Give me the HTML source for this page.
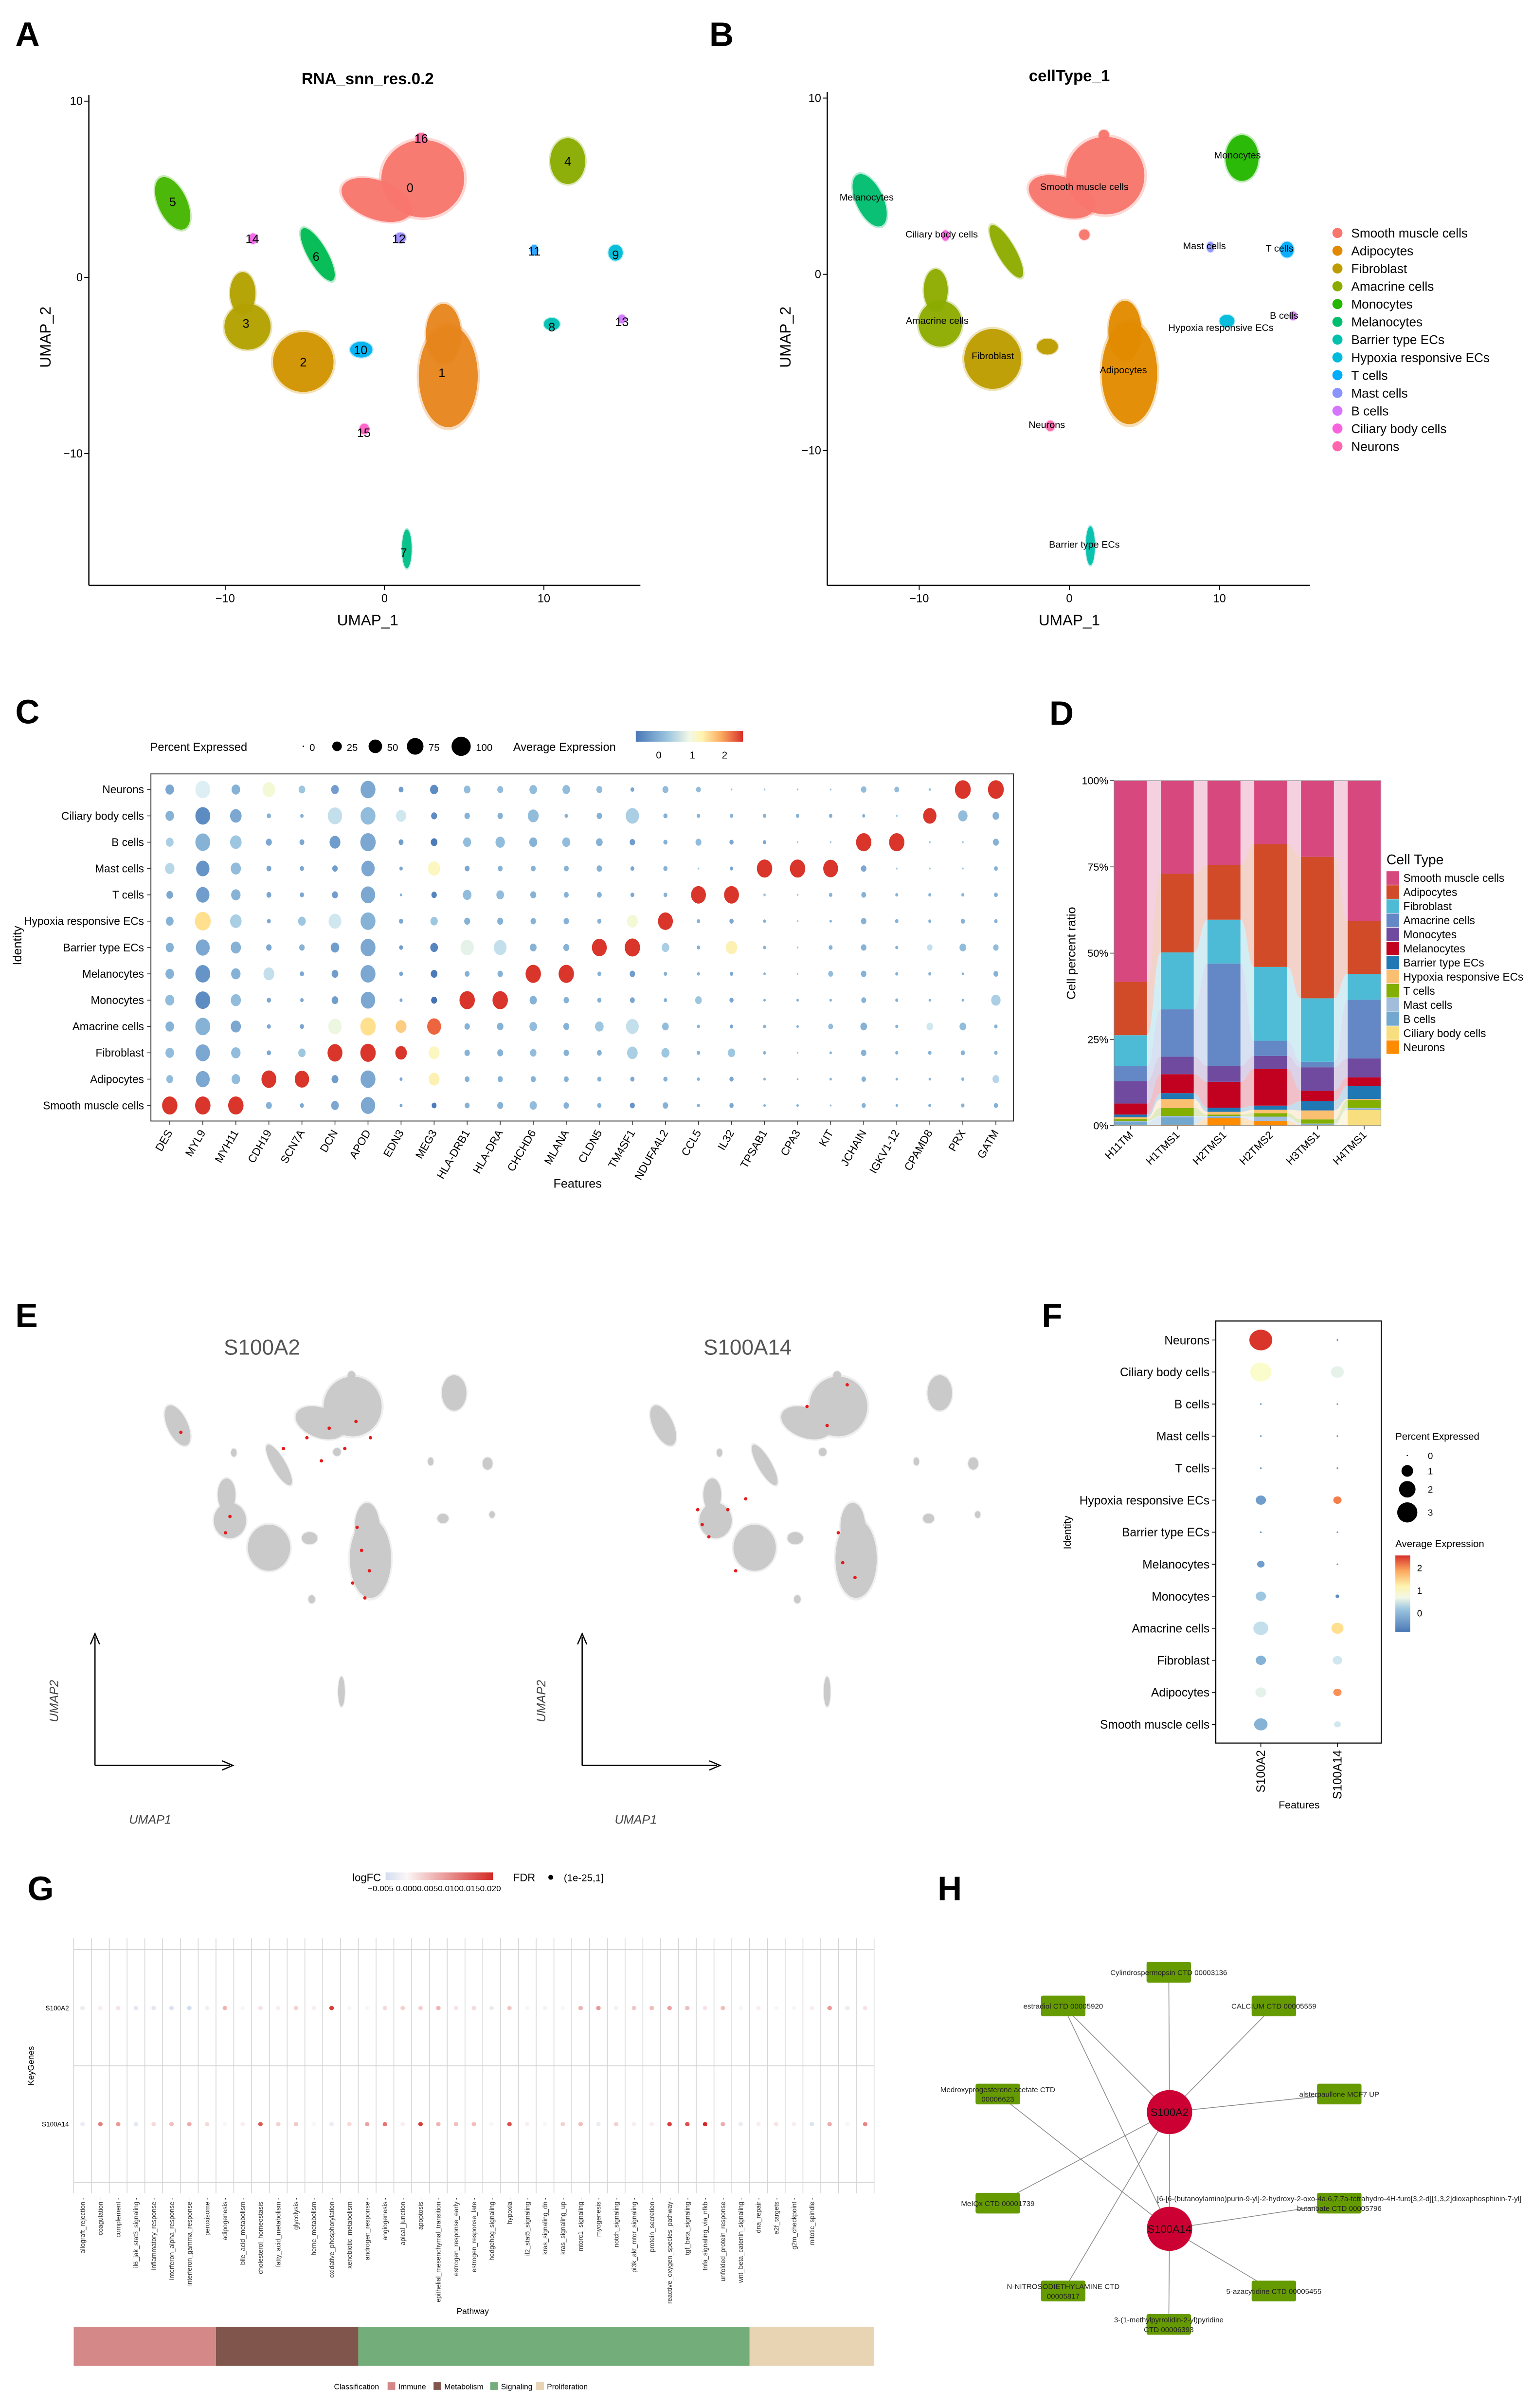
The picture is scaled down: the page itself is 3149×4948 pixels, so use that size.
<!DOCTYPE html>
<html><head><meta charset="utf-8">
<style>html,body{margin:0;padding:0;background:#fff}svg{display:block}text{font-family:"Liberation Sans",Arial,sans-serif}</style>
</head><body>
<svg id="fig" xmlns="http://www.w3.org/2000/svg" width="3149" height="4948" viewBox="0 0 1000 1571.3">
<rect x="0" y="0" width="1000" height="1571.3" fill="#fff"/>
<defs>
<linearGradient id="gC" x1="0" x2="1" y1="0" y2="0"><stop offset="0" stop-color="#4A78B6"/><stop offset="0.3" stop-color="#9DC6E0"/><stop offset="0.5" stop-color="#F1F8E6"/><stop offset="0.62" stop-color="#FFF3AE"/><stop offset="0.8" stop-color="#FCA85E"/><stop offset="1" stop-color="#D7302A"/></linearGradient>
<linearGradient id="gF" x1="0" x2="0" y1="1" y2="0"><stop offset="0" stop-color="#4A78B6"/><stop offset="0.3" stop-color="#9DC6E0"/><stop offset="0.45" stop-color="#F1F8E6"/><stop offset="0.6" stop-color="#FFF3AE"/><stop offset="0.8" stop-color="#FCA85E"/><stop offset="1" stop-color="#D7302A"/></linearGradient>
<linearGradient id="gG" x1="0" x2="1" y1="0" y2="0"><stop offset="0" stop-color="#D3DDF0"/><stop offset="0.2" stop-color="#FBF6F6"/><stop offset="1" stop-color="#D42A26"/></linearGradient>
</defs>
<g font-weight="bold" font-size="22">
<text x="10" y="30">A</text>
<text x="463" y="30">B</text>
<text x="10" y="472">C</text>
<text x="685" y="473">D</text>
<text x="10" y="866">E</text>
<text x="680" y="866">F</text>
<text x="18" y="1240">G</text>
<text x="612" y="1240">H</text>
</g>
<text x="240" y="55" text-anchor="middle" font-weight="bold" font-size="10.5">RNA_snn_res.0.2</text>
<text x="698" y="53" text-anchor="middle" font-weight="bold" font-size="10.5">cellType_1</text>
<text x="240" y="408" text-anchor="middle" font-size="10">UMAP_1</text>
<text transform="translate(33,220) rotate(-90)" text-anchor="middle" font-size="10">UMAP_2</text>
<text x="698" y="408" text-anchor="middle" font-size="10">UMAP_1</text>
<text transform="translate(516,220) rotate(-90)" text-anchor="middle" font-size="10">UMAP_2</text>
<text x="171" y="884" text-anchor="middle" font-size="14" fill="#555">S100A2</text>
<text x="488" y="884" text-anchor="middle" font-size="14" fill="#555">S100A14</text>
</svg>
<script>
// ---------- DATA ----------
// UMAP cluster parts: [cluster, u, v, ru, rv, rot]
const clusterParts=[[0,2.4,5.6,2.6,2.2,0],[0,-0.5,4.4,2.3,1.1,-20],[1,4,-5.6,1.85,2.9,0],[1,3.7,-3.2,1.1,1.7,0],[2,-5.1,-4.8,1.9,1.7,0],[3,-8.6,-2.8,1.45,1.3,0],[3,-8.9,-0.9,0.8,1.2,0],[4,11.5,6.6,1.1,1.3,0],[5,-13.3,4.2,0.9,1.6,25],[6,-4.2,1.3,0.6,1.7,30],[7,1.4,-15.4,0.3,1.1,0],[8,10.5,-2.65,0.5,0.35,0],[9,14.5,1.4,0.45,0.45,0],[10,-1.46,-4.1,0.7,0.45,0],[11,9.4,1.55,0.25,0.3,0],[12,1,2.25,0.35,0.3,0],[13,14.9,-2.36,0.25,0.25,0],[14,-8.25,2.2,0.25,0.3,0],[15,-1.27,-8.6,0.3,0.3,0],[16,2.3,7.9,0.35,0.3,0]];
const clusterLabelPos=[[0,1.6,5.1],[1,3.6,-5.4],[2,-5.1,-4.8],[3,-8.7,-2.6],[4,11.5,6.6],[5,-13.3,4.3],[6,-4.3,1.2],[7,1.2,-15.6],[8,10.5,-2.8],[9,14.5,1.3],[10,-1.5,-4.1],[11,9.4,1.5],[12,0.9,2.2],[13,14.9,-2.5],[14,-8.3,2.2],[15,-1.3,-8.8],[16,2.3,7.9]];
const clusterColors=["#F8766D","#E7851E","#D09400","#B2A100","#89AC00","#45B500","#00BC51","#00C087","#00C0B2","#00BCD6","#00B3F2","#29A3FF","#9C8DFF","#D277FF","#F166E8","#FF61C7","#FF689E"];
const cellTypes=["Smooth muscle cells","Adipocytes","Fibroblast","Amacrine cells","Monocytes","Melanocytes","Barrier type ECs","Hypoxia responsive ECs","T cells","Mast cells","B cells","Ciliary body cells","Neurons"];
const typeColors=["#F8766D","#E18A00","#BE9C00","#8CAB00","#24B700","#00BE70","#00C1AB","#00BBDA","#00ACFC","#8B93FF","#D575FE","#F962DD","#FF65AC"];
const clusterToType=[0,1,2,3,4,5,3,6,7,8,2,9,0,10,11,12,0];
const typeLabelPos=[[1,5],[3.6,-5.4],[-5.1,-4.6],[-8.8,-2.6],[11.2,6.8],[-13.5,4.4],[1,-15.3],[10.1,-3],[14,1.5],[9,1.65],[14.3,-2.3],[-8.5,2.3],[-1.5,-8.5]];
const umapTicks=[-10,0,10];

// Panel C dot plot
const dotGenes=["DES","MYL9","MYH11","CDH19","SCN7A","DCN","APOD","EDN3","MEG3","HLA-DRB1","HLA-DRA","CHCHD6","MLANA","CLDN5","TM4SF1","NDUFA4L2","CCL5","IL32","TPSAB1","CPA3","KIT","JCHAIN","IGKV1-12","CPAMD8","PRX","GATM"];
const dotRows=["Neurons","Ciliary body cells","B cells","Mast cells","T cells","Hypoxia responsive ECs","Barrier type ECs","Melanocytes","Monocytes","Amacrine cells","Fibroblast","Adipocytes","Smooth muscle cells"];
const pctNeurons=[25,75,25,55,15,20,75,8,22,15,12,20,20,12,5,12,8,1,1,1,1,10,8,2,85,85];
const pctCiliary=[25,75,45,6,4,70,75,35,12,10,10,40,4,10,60,6,4,4,4,4,4,3,1,60,30,15];
const pctB=[20,75,45,12,8,40,80,8,15,22,30,22,22,15,10,6,12,6,4,1,1,80,80,1,1,12];
const pctMast=[30,60,35,8,6,10,60,4,50,8,8,8,8,10,5,6,1,4,80,80,75,10,1,1,1,5];
const pctT=[15,60,30,8,6,12,70,2,10,25,20,12,8,8,5,5,75,75,2,1,4,8,3,3,3,5];
const pctHypoxia=[20,85,45,5,20,55,75,6,18,12,12,10,10,6,40,75,4,6,3,1,2,10,4,3,6,4];
const pctBarrier=[22,65,35,10,10,25,75,5,20,60,55,15,12,75,80,20,4,45,3,1,5,10,3,10,15,10];
const pctMelano=[25,75,30,40,6,15,75,5,15,8,10,80,80,5,10,4,3,4,2,1,8,10,3,3,2,8];
const pctMono=[28,75,35,6,4,15,70,3,12,80,80,18,10,6,8,4,15,6,2,2,2,8,3,2,2,30];
const pctAmacrine=[25,75,35,5,6,60,80,40,65,10,14,20,12,25,55,15,3,4,3,2,8,15,3,15,15,4];
const pctFibro=[25,70,30,6,18,75,80,45,40,10,12,14,10,8,38,22,4,18,3,1,2,10,3,4,6,4];
const pctAdipo=[16,65,25,75,70,16,75,3,40,8,9,9,8,6,6,6,3,6,2,1,2,7,2,2,3,16];
const pctSmooth=[80,80,80,12,5,20,70,3,8,8,12,18,10,6,8,10,3,6,2,2,1,6,2,3,4,6];
const exNeurons=[-0.3,0.5,-0.2,0.8,0,-0.4,-0.3,-0.4,-0.6,-0.1,-0.1,-0.1,-0.1,-0.1,-0.3,-0.1,-0.1,0,0,0,0,-0.1,-0.1,0,2.3,2.3];
const exCiliary=[-0.2,-0.6,-0.3,-0.2,-0.2,0.3,-0.1,0.4,-0.6,-0.2,-0.2,-0.1,-0.2,-0.2,0.1,-0.2,-0.2,-0.2,-0.2,-0.2,-0.2,-0.2,0,2.3,-0.1,-0.2];
const exB=[0.1,-0.2,0,-0.3,-0.3,-0.4,-0.3,-0.4,-0.8,-0.1,-0.1,-0.2,-0.1,-0.2,-0.4,-0.2,-0.1,-0.3,-0.3,0,0,2.3,2.3,0,0,-0.2];
const exMast=[0.2,-0.5,-0.1,-0.3,-0.3,-0.4,-0.3,-0.3,1.0,-0.3,-0.2,-0.2,-0.2,-0.2,-0.3,-0.2,0,-0.3,2.3,2.3,2.3,-0.3,0,0,0,-0.2];
const exT=[-0.3,-0.4,-0.2,-0.3,-0.3,-0.4,-0.3,-0.2,-0.7,-0.1,-0.1,-0.2,-0.2,-0.2,-0.3,-0.2,2.3,2.3,0,0,-0.2,-0.2,-0.2,-0.2,-0.2,-0.2];
const exHypoxia=[-0.2,1.4,0.1,-0.3,0,0.4,-0.2,-0.3,0,-0.2,-0.2,-0.2,-0.2,-0.2,0.8,2.3,-0.2,-0.3,-0.2,0,-0.2,-0.2,-0.2,-0.2,-0.2,-0.2];
const exBarrier=[-0.2,-0.3,-0.2,-0.3,-0.2,-0.4,-0.3,-0.4,-0.7,0.6,0.3,-0.2,-0.2,2.3,2.3,0.1,-0.2,1.1,-0.2,0,-0.2,-0.2,-0.2,0.3,-0.1,-0.1];
const exMelano=[-0.2,-0.5,-0.2,0.3,-0.3,-0.4,-0.3,-0.3,-0.8,-0.2,-0.2,2.3,2.3,-0.2,-0.4,-0.2,-0.2,-0.3,-0.2,0,-0.1,-0.2,-0.2,-0.2,-0.2,-0.2];
const exMono=[-0.1,-0.6,-0.1,-0.3,-0.3,-0.4,-0.3,-0.3,-0.9,2.3,2.3,-0.2,-0.2,-0.2,-0.3,-0.2,0,-0.3,-0.2,-0.2,-0.2,-0.2,-0.2,-0.2,-0.2,0.1];
const exAmacrine=[-0.2,-0.2,-0.3,-0.3,-0.3,0.7,1.4,1.5,2.0,-0.2,-0.2,-0.1,-0.2,0,0.3,-0.1,-0.2,-0.3,-0.2,-0.2,-0.1,-0.2,-0.2,0.4,-0.1,-0.2];
const exFibro=[-0.1,-0.3,-0.1,-0.3,0,2.3,2.3,2.3,1.0,-0.2,-0.2,-0.1,-0.2,-0.2,0.1,0,-0.2,0,-0.2,0,-0.2,-0.2,-0.2,-0.2,-0.2,-0.2];
const exAdipo=[-0.1,-0.3,-0.1,2.3,2.3,-0.4,-0.3,-0.3,1.1,-0.2,-0.2,-0.2,-0.2,-0.2,-0.3,-0.2,-0.2,-0.3,-0.2,-0.2,-0.2,-0.2,-0.2,-0.2,-0.2,0.2];
const exSmooth=[2.3,2.3,2.3,-0.2,-0.3,-0.3,-0.3,-0.3,-0.8,-0.2,-0.2,-0.1,-0.2,-0.2,-0.5,-0.2,-0.2,-0.3,-0.2,-0.2,-0.2,-0.2,-0.2,-0.2,-0.2,-0.2];
const pctLegendVals=[0,25,50,75,100];

// Panel D stacked bars (bottom -> top stacking order)
const samples=["H11TM","H1TMS1","H2TMS1","H2TMS2","H3TMS1","H4TMS1"];
const stackTypes=["Neurons","Ciliary body cells","B cells","Mast cells","T cells","Hypoxia responsive ECs","Barrier type ECs","Melanocytes","Monocytes","Amacrine cells","Fibroblast","Adipocytes","Smooth muscle cells"];
const stackColors=["#FF8C00","#F8DE7E","#72A8CF","#A2BCDC","#82AF00","#FBBF72","#1F77B4","#C20020","#6F4A9E","#6488C6","#4DBBD5","#D14B28","#D6487E"];
const pH11TM=[0.1,0.1,0.8,0.4,0.5,0.5,0.8,3.2,6.5,4.3,9,15.5,58.3];
const pH1TMS1=[0.2,0.05,2.15,0.4,2.3,2.6,1.7,5.5,5.1,13.7,16.5,22.8,27];
const pH2TMS1=[2.2,0,0.2,0.4,0.4,0.8,1.2,7.5,4.6,29.7,12.7,15.9,24.4];
const pH2TMS2=[1.4,0,0,1.2,1,1,1.2,10.6,3.8,4.4,21.4,35.6,18.4];
const pH3TMS1=[0.1,0.1,0.2,0.2,1.2,2.6,2.7,3,6.8,1.6,18.4,41,22.1];
const pH4TMS1=[0,4.6,0.2,0.3,2.3,0.3,3.8,2.5,5.5,17,7.5,15.3,40.7];
const pctTicks=[0,25,50,75,100];

// Panel E expressing cells (UMAP units)
const s100a2Cells=[[-13,3.7],[-3.8,2.5],[-1.7,3.3],[0.3,4],[1.7,2.5],[2.7,4.5],[4,3.3],[-0.4,1.6],[-8.6,-2.5],[-9,-3.7],[2.8,-3.3],[3.2,-5],[3.9,-6.5],[2.4,-7.4],[3.5,-8.5]];
const s100a14Cells=[[-10.2,-2],[-9.8,-3.1],[-9.2,-4],[-7.5,-2],[-5.9,-1.2],[-0.4,5.6],[1.4,4.2],[3.2,7.2],[-6.8,-6.5],[2.4,-3.7],[2.8,-5.9],[3.9,-7]];

// Panel F
const fRows=["Neurons","Ciliary body cells","B cells","Mast cells","T cells","Hypoxia responsive ECs","Barrier type ECs","Melanocytes","Monocytes","Amacrine cells","Fibroblast","Adipocytes","Smooth muscle cells"];
const fGenes=["S100A2","S100A14"];
const fPctA2=[3.5,3.0,0.02,0.02,0.02,0.7,0.02,0.37,0.7,1.5,0.7,0.8,1.2];
const fPctA14=[0.02,1.1,0.02,0.02,0.02,0.45,0.02,0.02,0.1,1.0,0.6,0.45,0.3];
const fExA2=[2.3,0.9,-0.5,-0.5,-0.5,-0.4,-0.5,-0.4,0,0.3,-0.2,0.6,-0.2];
const fExA14=[-0.5,0.6,-0.5,-0.5,-0.5,1.9,-0.5,-0.5,-0.6,1.4,0.4,1.8,0.4];
const fPctLegend=[0,1,2,3];
const fExTicks=[0,1,2];

// Panel G
const pathways=["allograft_rejection","coagulation","complement","il6_jak_stat3_signaling","inflammatory_response","interferon_alpha_response","interferon_gamma_response","peroxisome","adipogenesis","bile_acid_metabolism","cholesterol_homeostasis","fatty_acid_metabolism","glycolysis","heme_metabolism","oxidative_phosphorylation","xenobiotic_metabolism","androgen_response","angiogenesis","apical_junction","apoptosis","epithelial_mesenchymal_transition","estrogen_response_early","estrogen_response_late","hedgehog_signaling","hypoxia","il2_stat5_signaling","kras_signaling_dn","kras_signaling_up","mtorc1_signaling","myogenesis","notch_signaling","pi3k_akt_mtor_signaling","protein_secretion","reactive_oxygen_species_pathway","tgf_beta_signaling","tnfa_signaling_via_nfkb","unfolded_protein_response","wnt_beta_catenin_signaling","dna_repair","e2f_targets","g2m_checkpoint","mitotic_spindle","","",""];
const keyGenes=["S100A2","S100A14"];
const lfcA2=[-0.002,0.001,0.002,-0.003,-0.003,-0.004,-0.005,0.001,0.007,0,0.002,0.001,0.004,0.001,0.02,0,0,0.003,0.004,0.004,0.007,0.002,0.003,-0.002,0.005,0,0.0005,0,0.007,0.01,0.0005,0.005,0.006,0.009,0.006,0.002,0.006,0,0.001,0,0,0.001,0.01,-0.002,0.002];
const lfcA14=[-0.002,0.013,0.01,-0.003,0.003,0.006,0.008,0.003,0,0.001,0.017,0.004,0.005,0,-0.002,0.003,0.009,0.014,0.001,0.02,0.007,0.006,0.006,0,0.018,0.001,0,0.004,0.006,-0.002,0.004,0.001,0.001,0.02,0.018,0.022,0.008,-0.002,0.001,0.002,0.001,-0.004,0.008,0,0.012];
const classNames=["Immune","Metabolism","Signaling","Proliferation"];
const classCounts=[8,8,22,7];
const classColors=["#D48888","#80554C","#72AD7A","#E8D3B3"];

// Panel H network
const hGenes=[["S100A2",763.4,1378.2],["S100A14",763.4,1454.4]];
const hDrugs=[["cylindrospermopsin",762.9,1287,["Cylindrospermopsin CTD 00003136"]],["estradiol",694,1309,["estradiol CTD 00005920"]],["calcium",831.5,1309,["CALCIUM CTD 00005559"]],["medroxyprogesterone",651.3,1366.5,["Medroxyprogesterone acetate CTD","00006623"]],["alsterpaullone",874.2,1366.5,["alsterpaullone MCF7 UP"]],["meiqx",651.3,1437.7,["MeIQx CTD 00001739"]],["butanoate",874.2,1437.7,["[6-[6-(butanoylamino)purin-9-yl]-2-hydroxy-2-oxo-4a,6,7,7a-tetrahydro-4H-furo[3,2-d][1,3,2]dioxaphosphinin-7-yl]","butanoate CTD 00005796"]],["n-nitrosodiethylamine",694,1495,["N-NITROSODIETHYLAMINE CTD","00005817"]],["azacytidine",831.5,1495,["5-azacytidine CTD 00005455"]],["methylpyrrolidinyl-pyridine",762.9,1516.8,["3-(1-methylpyrrolidin-2-yl)pyridine","CTD 00006393"]]];
const hEdges=[[0,"cylindrospermopsin"],[0,"estradiol"],[0,"calcium"],[0,"alsterpaullone"],[0,"meiqx"],[0,"n-nitrosodiethylamine"],[1,"estradiol"],[1,"medroxyprogesterone"],[1,"butanoate"],[1,"azacytidine"],[1,"methylpyrrolidinyl-pyridine"],[0,"S100A14"]];

// ---------- HELPERS ----------
const NS='http://www.w3.org/2000/svg';
const svg=document.getElementById('fig');
function mk(tag,attrs,parent){const e=document.createElementNS(NS,tag);for(const k in attrs)e.setAttribute(k,attrs[k]);(parent||svg).appendChild(e);return e;}
function txt(s,attrs,parent){const e=mk('text',attrs,parent);e.textContent=s;return e;}
function grp(name){const g=mk('g',{});return g;}
function hex2rgb(h){return[parseInt(h.slice(1,3),16),parseInt(h.slice(3,5),16),parseInt(h.slice(5,7),16)];}
function interp(stops,v){if(v<=stops[0][0])return stops[0][1];for(let i=1;i<stops.length;i++){if(v<=stops[i][0]){const t=(v-stops[i-1][0])/(stops[i][0]-stops[i-1][0]);const a=hex2rgb(stops[i-1][1]),b=hex2rgb(stops[i][1]);return 'rgb('+a.map((x,k)=>Math.round(x+(b[k]-x)*t)).join(',')+')';}}return stops[stops.length-1][1];}
const exprStops=[[-1,'#3B6BB0'],[-0.45,'#6A98C9'],[0,'#9DC6E0'],[0.5,'#DDEFF4'],[0.9,'#FBFCCB'],[1.4,'#FEE08E'],[1.9,'#F57D4A'],[2.2,'#D9352A']];
const lfcStops=[[-0.005,'#D3DDF0'],[0,'#FBF6F6'],[0.022,'#D42A26']];

// ---------- UMAP PANELS ----------
function drawUmap(g,xs,ys,colorOf,op){
  clusterParts.forEach(p=>{
    const cx=xs(p[1]),cy=ys(p[2]);
    const rx=Math.abs(xs(p[3])-xs(0)),ry=Math.abs(ys(p[4])-ys(0));
    const halo=mk('ellipse',{cx:cx,cy:cy,rx:rx*1.05+0.4,ry:ry*1.05+0.4,fill:colorOf(p[0]),'fill-opacity':0.3*op,transform:`rotate(${-p[5]} ${cx} ${cy})`},g);
    
    
    const e=mk('ellipse',{cx:cx,cy:cy,rx:rx,ry:ry,fill:colorOf(p[0]),'fill-opacity':op,transform:`rotate(${-p[5]} ${cx} ${cy})`},g);
    
    
  });
}
function drawAxes(g,x0,x1,y0,y1,xs,ys){
  const l1=mk('line',{x1:x0,y1:y0,x2:x0,y2:y1,stroke:'#000','stroke-width':0.8},g);
  
  
  const l2=mk('line',{x1:x0,y1:y1,x2:x1,y2:y1,stroke:'#000','stroke-width':0.8},g);
  
  
  umapTicks.forEach(t=>{
    const tl=mk('line',{x1:x0-3,x2:x0,y1:ys(t),y2:ys(t),stroke:'#000','stroke-width':0.6},g);
    
    
    const lb=txt(String(t).replace('-','\u2212'),{x:x0-4,y:ys(t)+2.5,'text-anchor':'end','font-size':7.5},g);
    
    
    const tx=mk('line',{x1:xs(t),x2:xs(t),y1:y1,y2:y1+3,stroke:'#000','stroke-width':0.6},g);
    
    
    const lx=txt(String(t).replace('-','\u2212'),{x:xs(t),y:y1+11,'text-anchor':'middle','font-size':7.5},g);
    
    
  });
}
// Panel A
const xA=u=>251+10.4*u, yA=v=>181-11.5*v;
const gA=grp('panel-a-umap-clusters');
drawUmap(gA,xA,yA,c=>clusterColors[c],0.95);
drawAxes(gA,58,418,62,382,xA,yA);
clusterLabelPos.forEach(l=>{
  const t=txt(String(l[0]),{x:xA(l[1]),y:yA(l[2])+3,'text-anchor':'middle','font-size':8},gA);
  
  
});
// Panel B
const xB=u=>698+9.8*u, yB=v=>179-11.5*v;
const gB=grp('panel-b-umap-celltypes');
drawUmap(gB,xB,yB,c=>typeColors[clusterToType[c]],0.95);
drawAxes(gB,540,855,60,382,xB,yB);
cellTypes.forEach((n,i)=>{
  const p=typeLabelPos[i];
  const t=txt(n,{x:xB(p[0]),y:yB(p[1])+2.5,'text-anchor':'middle','font-size':6.3},gB);
  
  
  const key=mk('circle',{cx:873,cy:152+i*11.6,r:3.3,fill:typeColors[i]},gB);
  
  
  const lt=txt(n,{x:882,y:155+i*11.6,'font-size':8.3},gB);
  
  
});

// ---------- PANEL C ----------
const gC=grp('panel-c-dotplot');
const colX=i=>110.8+21.57*i, rowY=j=>515.2+17.18*j, rad=p=>6.6*Math.sqrt(p/100);
const pctRows=[pctNeurons,pctCiliary,pctB,pctMast,pctT,pctHypoxia,pctBarrier,pctMelano,pctMono,pctAmacrine,pctFibro,pctAdipo,pctSmooth];
const exRows=[exNeurons,exCiliary,exB,exMast,exT,exHypoxia,exBarrier,exMelano,exMono,exAmacrine,exFibro,exAdipo,exSmooth];
const boxC=mk('rect',{x:98.5,y:505,width:563,height:226.5,fill:'none',stroke:'#333','stroke-width':0.6},gC);


dotRows.forEach((r,j)=>{
  const t=txt(r,{x:94,y:rowY(j)+2.5,'text-anchor':'end','font-size':7.2},gC);
  
  
  const tk=mk('line',{x1:96,x2:98.5,y1:rowY(j),y2:rowY(j),stroke:'#333','stroke-width':0.5},gC);
  
  
  dotGenes.forEach((g,i)=>{
    const r0=Math.max(rad(pctRows[j][i]),0.5);
    const d=mk('ellipse',{cx:colX(i),cy:rowY(j),rx:r0*0.85,ry:r0,fill:interp(exprStops,exRows[j][i])},gC);
    
    
  });
});
dotGenes.forEach((g,i)=>{
  const tk=mk('line',{x1:colX(i),x2:colX(i),y1:731.5,y2:734,stroke:'#333','stroke-width':0.5},gC);
  
  
  const t=txt(g,{transform:`translate(${colX(i)+2},${739}) rotate(-60)`,'text-anchor':'end','font-size':7.2},gC);
  
  
});
const cxT=txt('Features',{x:377,y:775,'text-anchor':'middle','font-size':8},gC);


const cyT=txt('Identity',{transform:'translate(14,617) rotate(-90)','text-anchor':'middle','font-size':8},gC);


const cl1=txt('Percent Expressed',{x:98,y:490,'font-size':7.5},gC);


const legX=[198,220,245,271,301];
pctLegendVals.forEach((v,i)=>{
  const c=mk('circle',{cx:legX[i],cy:487,r:Math.max(rad(v)*0.95,0.5),fill:'#000'},gC);
  
  
  const t=txt(String(v),{x:legX[i]+Math.max(rad(v),1)+3,y:490,'font-size':6.5},gC);
  
  
});
const cl2=txt('Average Expression',{x:335,y:490,'font-size':7.5},gC);


const cb=mk('rect',{x:415,y:477,width:70,height:7,fill:'url(#gC)'},gC);


[[0,430],[1,452],[2,473]].forEach(p=>{
  const t=txt(String(p[0]),{x:p[1],y:495,'text-anchor':'middle','font-size':6.5},gC);
  
  
});

// ---------- PANEL D ----------
const gD=grp('panel-d-stacked-bars');
const barL=i=>727.2+30.5*i, barW=21.5, yD=p=>734.5-2.251*p;
const pRows=[pH11TM,pH1TMS1,pH2TMS1,pH2TMS2,pH3TMS1,pH4TMS1];
const cum=pRows.map(r=>{let s=0;return r.map(v=>{const b=s;s+=v;return [b,s];});});
for(let i=0;i<samples.length-1;i++){
  stackTypes.forEach((t,k)=>{
    const x0=barL(i)+barW,x1=barL(i+1),xm=(x0+x1)/2;
    const a=cum[i][k],b=cum[i+1][k];
    const p=mk('path',{d:`M${x0},${yD(a[1])} C${xm},${yD(a[1])} ${xm},${yD(b[1])} ${x1},${yD(b[1])} L${x1},${yD(b[0])} C${xm},${yD(b[0])} ${xm},${yD(a[0])} ${x0},${yD(a[0])} Z`,fill:stackColors[k],'fill-opacity':0.25},gD);
    
    
  });
}
samples.forEach((s,i)=>{
  stackTypes.forEach((t,k)=>{
    const c=cum[i][k];
    const r=mk('rect',{x:barL(i),y:yD(c[1]),width:barW,height:Math.max(yD(c[0])-yD(c[1]),0),fill:stackColors[k]},gD);
    
    
  });
  const cx=barL(i)+barW/2;
  const tk=mk('line',{x1:cx,x2:cx,y1:734.5,y2:737,stroke:'#333','stroke-width':0.5},gD);
  
  
  const lb=txt(s,{transform:`translate(${cx+2},${741}) rotate(-45)`,'text-anchor':'end','font-size':7},gD);
  
  
});
const fD=mk('rect',{x:727.2,y:509.4,width:174.2,height:225.1,fill:'none',stroke:'#888','stroke-width':0.4},gD);


pctTicks.forEach(p=>{
  const tk=mk('line',{x1:724.5,x2:727.2,y1:yD(p),y2:yD(p),stroke:'#333','stroke-width':0.5},gD);
  
  
  const lb=txt(p+'%',{x:723.5,y:yD(p)+2.4,'text-anchor':'end','font-size':6.8},gD);
  
  
});
const dyT=txt('Cell percent ratio',{transform:'translate(702,622) rotate(-90)','text-anchor':'middle','font-size':8},gD);


const dlt=txt('Cell Type',{x:905,y:564,'font-size':9},gD);


for(let k=stackTypes.length-1,n=0;k>=0;k--,n++){
  const key=mk('rect',{x:905,y:568.5+n*9.2,width:8.3,height:8.8,fill:stackColors[k]},gD);
  
  
  const t=txt(stackTypes[k],{x:916,y:575.5+n*9.2,'font-size':7.2},gD);
  
  
}

// ---------- PANEL E ----------
const gE=grp('panel-e-feature-plots');
const yE=v=>967.4-8.86*v, xE1=u=>212.7+7.28*u, xE2=u=>529.7+7.28*u;
drawUmap(gE,xE1,yE,()=>'#CACACA',1);
drawUmap(gE,xE2,yE,()=>'#CACACA',1);
s100a2Cells.forEach(c=>{
  const d=mk('circle',{cx:xE1(c[0]),cy:yE(c[1]),r:1.1,fill:'#E41A1C'},gE);
  
  
});
s100a14Cells.forEach(c=>{
  const d=mk('circle',{cx:xE2(c[0]),cy:yE(c[1]),r:1.1,fill:'#E41A1C'},gE);
  
  
});
[[62,38,98],[380,356,415]].forEach((a,i)=>{
  const v=mk('path',{d:`M${a[0]},1152 L${a[0]},1068 M${a[0]-3},1073 L${a[0]},1066 L${a[0]+3},1073`,stroke:'#000','stroke-width':0.8,fill:'none'},gE);
  
  
  const h=mk('path',{d:`M${a[0]},1152 L${a[0]+88},1152 M${a[0]+83},1149 L${a[0]+90},1152 L${a[0]+83},1155`,stroke:'#000','stroke-width':0.8,fill:'none'},gE);
  
  
  const t1=txt('UMAP2',{transform:`translate(${a[1]},1110) rotate(-90)`,'text-anchor':'middle','font-size':8,'font-style':'italic',fill:'#444'},gE);
  
  
  const t2=txt('UMAP1',{x:a[2],y:1190,'text-anchor':'middle','font-size':8,'font-style':'italic',fill:'#444'},gE);
  
  
});

// ---------- PANEL F ----------
const gF=grp('panel-f-dotplot');
const colF=i=>823+50*i, rowF=j=>874.4+20.9*j, radF=p=>Math.max(4*Math.sqrt(p),0.45);
const fB=mk('rect',{x:793.6,y:862,width:108,height:275.4,fill:'none',stroke:'#000','stroke-width':0.7},gF);


const fP=[fPctA2,fPctA14], fE=[fExA2,fExA14];
fRows.forEach((r,j)=>{
  const t=txt(r,{x:789.5,y:rowF(j)+2.8,'text-anchor':'end','font-size':7.8},gF);
  
  
  const tk=mk('line',{x1:791,x2:793.6,y1:rowF(j),y2:rowF(j),stroke:'#000','stroke-width':0.5},gF);
  
  
  fGenes.forEach((g,i)=>{
    const r0=radF(fP[i][j]);
    const d=mk('ellipse',{cx:colF(i),cy:rowF(j),rx:r0,ry:r0*0.9,fill:interp(exprStops,fE[i][j])},gF);
    
    
  });
});
fGenes.forEach((g,i)=>{
  const tk=mk('line',{x1:colF(i),x2:colF(i),y1:1137.4,y2:1140,stroke:'#000','stroke-width':0.5},gF);
  
  
  const t=txt(g,{transform:`translate(${colF(i)+2.6},${1142}) rotate(-90)`,'text-anchor':'end','font-size':7.8},gF);
  
  
});
const fx=txt('Features',{x:848,y:1180,'text-anchor':'middle','font-size':6.8},gF);


const fy=txt('Identity',{transform:'translate(699,1000) rotate(-90)','text-anchor':'middle','font-size':6.8},gF);


const fl1=txt('Percent Expressed',{x:910.8,y:939.5,'font-size':6.5},gF);


const fLegY=[949.8,959.8,971.8,986.9];
fPctLegend.forEach((v,i)=>{
  const c=mk('circle',{cx:918.6,cy:fLegY[i],r:Math.max(v===0?0.4:4*Math.sqrt(v)*0.95,0.4),fill:'#000'},gF);
  
  
  const t=txt(String(v),{x:932,y:fLegY[i]+2.2,'font-size':6},gF);
  
  
});
const fl2=txt('Average Expression',{x:910.8,y:1009.5,'font-size':6.5},gF);


const fcb=mk('rect',{x:910.8,y:1015,width:9.7,height:50,fill:'url(#gF)'},gF);


const fcbY=v=>1052.6-14.8*v;
fExTicks.forEach(v=>{
  const t=txt(String(v),{x:925,y:fcbY(v)+2.2,'font-size':6},gF);
  
  
});

// ---------- PANEL G ----------
const gG=grp('panel-g-pathway-dotplot');
const xG=i=>53.9+11.61*i, rowG=[1310.3,1386.1];
for(let i=0;i<=pathways.length;i++){
  const l=mk('line',{x1:xG(i)-5.8,x2:xG(i)-5.8,y1:1264.8,y2:1431.2,stroke:'#D4D4D4','stroke-width':0.5},gG);
  
  
}
[1272.1,1348,1424.1].forEach(y=>{
  const l=mk('line',{x1:47.7,x2:570.5,y1:y,y2:y,stroke:'#D4D4D4','stroke-width':0.5},gG);
  
  
});
const lfc=[lfcA2,lfcA14];
keyGenes.forEach((g,j)=>{
  const t=txt(g,{x:45,y:rowG[j]+1.5,'text-anchor':'end','font-size':4.3},gG);
  
  
  pathways.forEach((p,i)=>{
    const d=mk('ellipse',{cx:xG(i),cy:rowG[j],rx:1.5,ry:1.4,fill:interp(lfcStops,lfc[j][i])},gG);
    
    
  });
});
pathways.forEach((p,i)=>{
  if(!p)return;
  const t=txt(p+' -',{transform:`translate(${xG(i)+1.5},${1434}) rotate(-90)`,'text-anchor':'end','font-size':4.3,fill:'#333'},gG);
  
  
});
const gx=txt('Pathway',{x:308.6,y:1510,'text-anchor':'middle','font-size':5.5},gG);


const gy=txt('KeyGenes',{transform:'translate(22,1348) rotate(-90)','text-anchor':'middle','font-size':5.5},gG);


let start=0;
classCounts.forEach((n,k)=>{
  const r=mk('rect',{x:xG(start)-5.8,y:1518.3,width:n*11.61,height:25.5,fill:classColors[k]},gG);
  
  
  start+=n;
});
const clT=txt('Classification',{x:218,y:1559,'font-size':5},gG);


const clX=[253,283,320,350];
classNames.forEach((n,k)=>{
  const r=mk('rect',{x:clX[k],y:1554.5,width:5,height:5,fill:classColors[k]},gG);
  
  
  const t=txt(n,{x:clX[k]+7,y:1559,'font-size':5},gG);
  
  
});
const lg1=txt('logFC',{x:230,y:1227.5,'font-size':7},gG);


const lgb=mk('rect',{x:251.7,y:1221.8,width:70,height:5,fill:'url(#gG)'},gG);


const lgl=txt('\u22120.005 0.0000.0050.0100.0150.020',{x:240,y:1234,'font-size':5,textLength:87,lengthAdjust:'spacingAndGlyphs'},gG);


const fdr=txt('FDR',{x:335,y:1227.5,'font-size':7},gG);


const fdd=mk('circle',{cx:359.5,cy:1225,r:1.6,fill:'#000'},gG);


const fdl=txt('(1e-25,1]',{x:368,y:1227.5,'font-size':6.5},gG);



// ---------- PANEL H ----------
const gH=grp('panel-h-network');
const pos={};
hGenes.forEach(g=>pos[g[0]]=[g[1],g[2]]);
hDrugs.forEach(d=>pos[d[0]]=[d[1],d[2]]);
hEdges.forEach(e=>{
  const a=pos[hGenes[e[0]][0]],b=pos[e[1]];
  const l=mk('line',{x1:a[0],y1:a[1],x2:b[0],y2:b[1],stroke:'#8A8A8A','stroke-width':0.5},gH);
  
  
});
hDrugs.forEach(d=>{
  const r=mk('rect',{x:d[1]-14.5,y:d[2]-6.8,width:29,height:13.5,rx:1.2,fill:'#659A00'},gH);
  
  
  const n=d[3].length;
  d[3].forEach((s,k)=>{
    const t=txt(s,{x:d[1],y:d[2]+1.8+(k-(n-1)/2)*6.3,'text-anchor':'middle','font-size':4.8,fill:'#222'},gH);
    
    
  });
});
hGenes.forEach(g=>{
  const c=mk('ellipse',{cx:g[1],cy:g[2],rx:14.8,ry:14.4,fill:'#CC0033'},gH);
  
  
  const t=txt(g[0],{x:g[1],y:g[2]+2.6,'text-anchor':'middle','font-size':7,fill:'#111'},gH);
  
  
});
</script>
</body></html>
